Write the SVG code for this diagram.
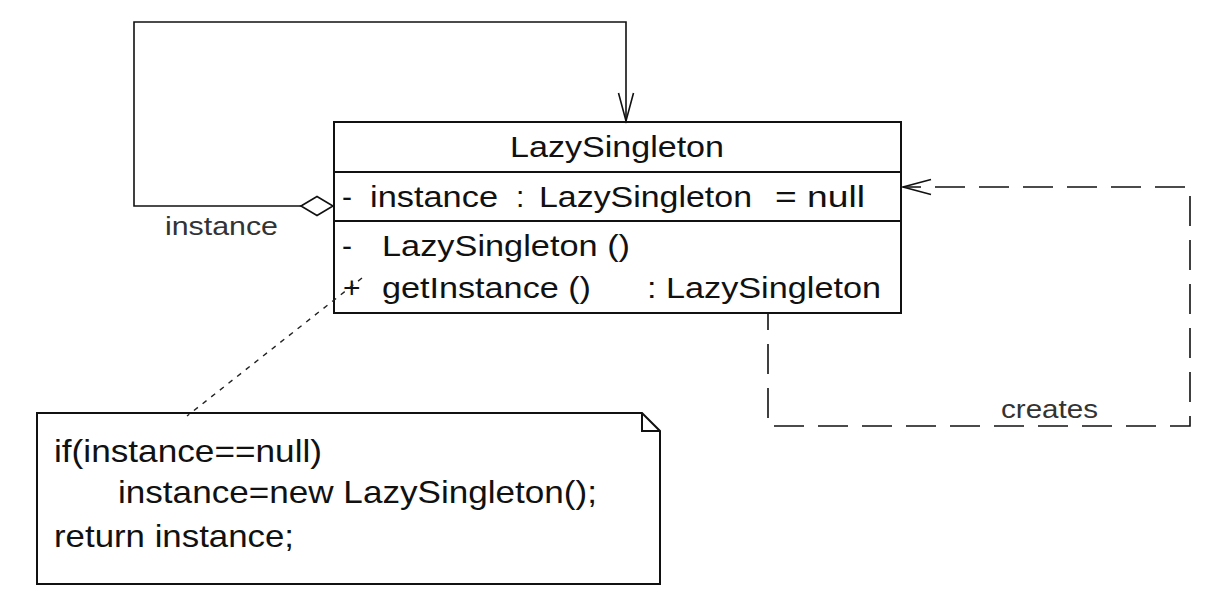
<svg xmlns="http://www.w3.org/2000/svg" width="1221" height="602" viewBox="0 0 1221 602">
  <style>
    .txt { font-family: "Liberation Sans", Arial, sans-serif; fill: #111; }
    .cls { font-size: 30px; }
    .lbl { font-size: 26px; fill: #333; }
    .note { font-size: 32px; }
    .box { fill: #fff; stroke: #111; stroke-width: 2; }
    .line { fill: none; stroke: #111; stroke-width: 1.6; }
    .dash { fill: none; stroke: #111; stroke-width: 1.6; stroke-dasharray: 30 14; }
    .dot { fill: none; stroke: #222; stroke-width: 1.4; stroke-dasharray: 5 6; }
  </style>
  <defs>
    <marker id="open" markerUnits="userSpaceOnUse" markerWidth="34" markerHeight="24" refX="30" refY="12" orient="auto">
      <path d="M2,4.5 L30,12 L2,19.5" fill="none" stroke="#111" stroke-width="1.6" stroke-dasharray="none"/>
    </marker>
  </defs>
  <rect width="1221" height="602" fill="#fff"/>

  <g id="LazySingleton">
    <rect class="box" x="334" y="122" width="567" height="191"/>
    <line x1="334" y1="172" x2="901" y2="172" stroke="#111" stroke-width="2"/>
    <line x1="334" y1="221" x2="901" y2="221" stroke="#111" stroke-width="2"/>
    <text class="txt cls" x="510" y="157" textLength="214" lengthAdjust="spacingAndGlyphs">LazySingleton</text>
    <text class="txt cls" y="207"><tspan x="342">-</tspan><tspan x="370" textLength="128" lengthAdjust="spacingAndGlyphs">instance</tspan><tspan x="516">:</tspan><tspan x="539" textLength="213" lengthAdjust="spacingAndGlyphs">LazySingleton</tspan><tspan x="775" textLength="90" lengthAdjust="spacingAndGlyphs">= null</tspan></text>
    <text class="txt cls" y="256"><tspan x="342">-</tspan><tspan x="382" textLength="248" lengthAdjust="spacingAndGlyphs">LazySingleton ()</tspan></text>
    <text class="txt cls" y="298"><tspan x="343">+</tspan><tspan x="382" textLength="209" lengthAdjust="spacingAndGlyphs">getInstance ()</tspan><tspan x="647" textLength="234" lengthAdjust="spacingAndGlyphs">: LazySingleton</tspan></text>
  </g>

  <g id="label-instance">
    <text class="txt lbl" x="165" y="235" textLength="113" lengthAdjust="spacingAndGlyphs">instance</text>
  </g>
  <g id="label-creates">
    <text class="txt lbl" x="1001" y="418" textLength="97" lengthAdjust="spacingAndGlyphs">creates</text>
  </g>

  <g id="note">
    <path class="box" d="M37,413 H642 L660,431 V584 H37 Z"/>
    <path d="M642,413 V431 H660" fill="none" stroke="#111" stroke-width="2"/>
    <text class="txt note" x="54" y="462" textLength="268" lengthAdjust="spacingAndGlyphs">if(instance==null)</text>
    <text class="txt note" x="118" y="503" textLength="479" lengthAdjust="spacingAndGlyphs">instance=new LazySingleton();</text>
    <text class="txt note" x="54" y="547" textLength="240" lengthAdjust="spacingAndGlyphs">return instance;</text>
  </g>

  <g id="connectors">
    <path id="self-assoc" class="line" d="M301,206 H134 V22 H626 V121" marker-end="url(#open)"/>
    <polygon id="diamond" points="301,206 317,196.5 333,206 317,215.5" fill="#fff" stroke="#111" stroke-width="1.6"/>
    <path id="creates" class="dash" d="M768,314 V426 H1190 V187 H903" stroke-dashoffset="14" marker-end="url(#open)"/>
    <path id="note-link" class="dot" d="M362,278 L187,416"/>
  </g>
</svg>
